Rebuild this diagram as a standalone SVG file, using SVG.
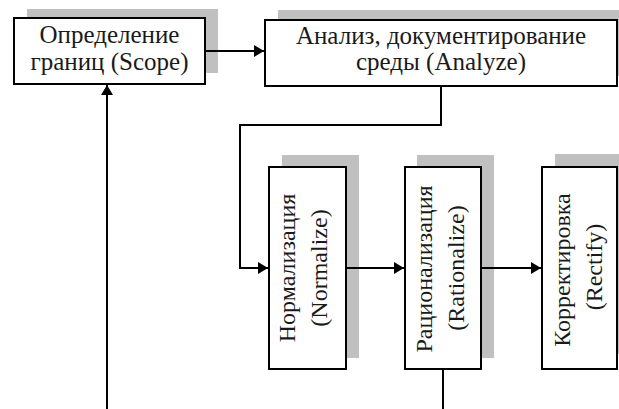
<svg xmlns="http://www.w3.org/2000/svg" width="619" height="409" viewBox="0 0 619 409">
<style>
.shadow{fill:#c0c0c0;stroke:none}
.box{fill:#ffffff;stroke:#000000;stroke-width:2}
.lbl{font-size:25px;fill:#1a1a1a;text-anchor:middle}
.vlbl{font-size:24px;fill:#1a1a1a;text-anchor:middle}
.conn{fill:none;stroke:#000000;stroke-width:2}
</style>
<defs>
<marker id="arr" markerUnits="userSpaceOnUse" markerWidth="11" markerHeight="12" refX="10" refY="6" orient="auto">
<path d="M0,0 L10,6 L0,12 z" fill="#000000"/>
</marker>
</defs>
<g id="scope">
<rect class="shadow" x="27" y="9" width="191" height="64"/>
<rect class="box" x="14" y="18" width="191" height="66"/>
<text class="lbl" font-family="Liberation Serif, Times New Roman, serif" x="109.5" y="43">Определение</text>
<text class="lbl" font-family="Liberation Serif, Times New Roman, serif" x="109.5" y="70">границ (Scope)</text>
</g>
<g id="analyze">
<rect class="shadow" x="278" y="10" width="341" height="66"/>
<rect class="box" x="265" y="20" width="352" height="66"/>
<text class="lbl" font-family="Liberation Serif, Times New Roman, serif" x="441" y="44">Анализ, документирование</text>
<text class="lbl" font-family="Liberation Serif, Times New Roman, serif" x="441" y="70">среды (Analyze)</text>
</g>
<g id="normalize">
<rect class="shadow" x="282" y="155" width="77" height="203"/>
<rect class="box" x="269" y="167" width="77" height="202"/>
<text class="vlbl" font-family="Liberation Serif, Times New Roman, serif" transform="translate(295,268) rotate(-90)">Нормализация</text>
<text class="vlbl" font-family="Liberation Serif, Times New Roman, serif" transform="translate(327,268) rotate(-90)">(Normalize)</text>
</g>
<g id="rationalize">
<rect class="shadow" x="417" y="155" width="77" height="203"/>
<rect class="box" x="405" y="167" width="76" height="202"/>
<text class="vlbl" font-family="Liberation Serif, Times New Roman, serif" transform="translate(432,269) rotate(-90)">Рационализация</text>
<text class="vlbl" font-family="Liberation Serif, Times New Roman, serif" transform="translate(464,268) rotate(-90)">(Rationalize)</text>
</g>
<g id="rectify">
<rect class="shadow" x="555" y="154" width="64" height="200"/>
<rect class="box" x="542" y="167" width="75" height="202"/>
<text class="vlbl" font-family="Liberation Serif, Times New Roman, serif" transform="translate(570,270) rotate(-90)">Корректировка</text>
<text class="vlbl" font-family="Liberation Serif, Times New Roman, serif" transform="translate(602,267) rotate(-90)">(Rectify)</text>
</g>
<g id="connectors">
<line class="conn" x1="205" y1="51" x2="264" y2="51" marker-end="url(#arr)"/>
<polyline class="conn" points="441,86 441,125 240,125 240,268 268,268" marker-end="url(#arr)"/>
<line class="conn" x1="346" y1="268" x2="404" y2="268" marker-end="url(#arr)"/>
<line class="conn" x1="481" y1="268" x2="541" y2="268" marker-end="url(#arr)"/>
<line class="conn" x1="443" y1="369" x2="443" y2="409"/>
<line class="conn" x1="107" y1="409" x2="107" y2="85" marker-end="url(#arr)"/>
</g>
</svg>
